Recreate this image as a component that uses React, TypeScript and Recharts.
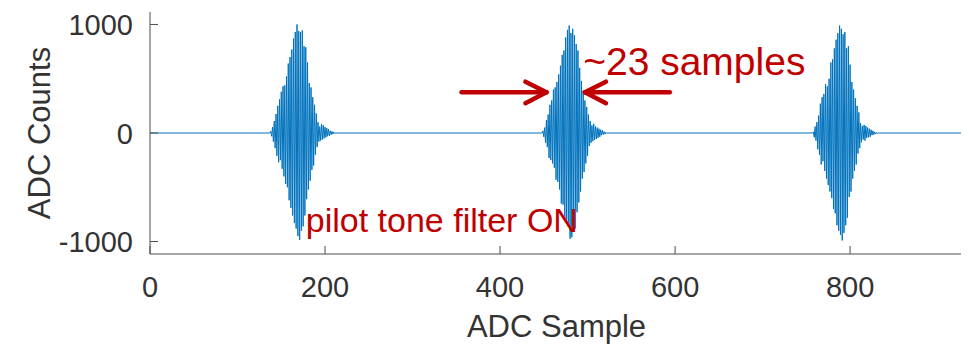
import React from 'react';
import {
  LineChart,
  Line,
  XAxis,
  YAxis,
  ReferenceLine,
  ReferenceDot,
  Label,
} from 'recharts';

// sample index where each burst begins
const burstStarts = [137, 448, 757];

const burst1 = [
  0, 15, -30, 55, -80, 110, -140, 175, -210, 250,
  -270, 310, -250, 380, -330, 430, -400, 440, -470, 520,
  -500, 640, -620, 700, -690, 770, -760, 870, -830, 930,
  -880, 1000, -950, 940, -985, 930, -900, 945, -860, 800,
  -760, 790, -610, 650, -520, 460, -440, 420, -340, 330,
  -300, 260, -200, 180, -130, 100, -80, 60, -70, 80,
  -60, 70, -50, 55, -40, 45, -30, 35, -25, 20,
  -15, 15, -10, 8, -5, 0,
];
const burst2 = [
  0, 20, -35, 50, -90, 120, -130, 170, -230, 260,
  -250, 300, -280, 400, -320, 420, -430, 470, -450, 540,
  -520, 620, -650, 720, -660, 760, -800, 880, -800, 950,
  -860, 990, -975, 920, -960, 960, -890, 900, -880, 820,
  -730, 760, -640, 600, -540, 480, -420, 390, -360, 300,
  -280, 240, -210, 170, -120, 110, -90, 70, -75, 85,
  -65, 60, -55, 50, -45, 40, -35, 30, -20, 25,
  -15, 12, -10, 6, -4, 0,
];
const burst3 = [
  0, 10, -40, 60, -70, 100, -150, 160, -200, 270,
  -290, 330, -260, 360, -350, 450, -420, 430, -480, 500,
  -540, 650, -600, 680, -700, 780, -740, 860, -850, 920,
  -900, 990, -940, 960, -990, 910, -920, 930, -850, 780,
  -780, 800, -590, 630, -540, 470, -420, 400, -350, 320,
  -290, 250, -190, 190, -140, 90, -85, 65, -60, 75,
  -70, 65, -45, 50, -40, 40, -35, 30, -20, 20,
  -15, 10, -10, 5, -5, 0,
];

const xTicks = [0, 200, 400, 600, 800];
const yTicks = [-1000, 0, 1000];
const X_MAX = 929;
const Y_LIM = 1115;

const BLUE = '#0072bd';
const RED = '#c00000';
const AXIS = '#4d4d4d';
const TEXT = '#333333';
const FONT = '"Liberation Sans", Arial, Helvetica, sans-serif';

const bursts = [burst1, burst2, burst3];
const data: { x: number; y: number }[] = [{ x: 0, y: 0 }];
bursts.forEach((b, i) => {
  b.forEach((v, j) => data.push({ x: burstStarts[i] + j, y: v }));
});
data.push({ x: X_MAX, y: 0 });

function BottomTick(props: any) {
  const { x, y, payload } = props;
  return (
    <g>
      <line x1={x} y1={y} x2={x} y2={y - 8} stroke={AXIS} />
      <text x={x} y={y + 43} textAnchor="middle" fontSize={29} fill={TEXT} fontFamily={FONT}>
        {payload.value}
      </text>
    </g>
  );
}

function TopTick(props: any) {
  const { x, y } = props;
  return <line x1={x} y1={y} x2={x} y2={y + 8} stroke={AXIS} />;
}

function LeftTick(props: any) {
  const { x, y, payload } = props;
  return (
    <g>
      <line x1={x} y1={y} x2={x + 8} y2={y} stroke={AXIS} />
      <text x={x - 17} y={y + 10.5} textAnchor="end" fontSize={29} fill={TEXT} fontFamily={FONT}>
        {payload.value}
      </text>
    </g>
  );
}

function RightTick(props: any) {
  const { x, y } = props;
  return <line x1={x} y1={y} x2={x - 8} y2={y} stroke={AXIS} />;
}

const arrowY = 375;
const arrowStyle = { stroke: RED, strokeWidth: 4.5, strokeLinecap: 'round' as const };

function Annotation(text: string, size: number) {
  return (p: any) => (
    <text x={p.cx} y={p.cy} fontSize={size} fill={RED} fontFamily={FONT}>
      {text}
    </text>
  );
}

export default function App() {
  return (
    <LineChart
      width={961}
      height={340}
      data={data}
      margin={{ top: 4, right: 6, left: 42, bottom: 0 }}
    >
      <XAxis
        dataKey="x"
        type="number"
        domain={[0, X_MAX]}
        ticks={xTicks}
        allowDataOverflow
        height={94}
        tickSize={0}
        tickMargin={0}
        tickLine={false}
        tick={BottomTick}
        axisLine={{ stroke: AXIS }}
      >
        <Label
          content={({ viewBox }: any) => (
            <text
              x={viewBox.x + viewBox.width / 2}
              y={viewBox.y + 83}
              textAnchor="middle"
              fontSize={31}
              fill={TEXT}
              fontFamily={FONT}
            >
              ADC Sample
            </text>
          )}
        />
      </XAxis>
      <XAxis
        xAxisId="top"
        orientation="top"
        dataKey="x"
        type="number"
        domain={[0, X_MAX]}
        ticks={xTicks}
        allowDataOverflow
        height={0}
        tickSize={0}
        tickMargin={0}
        tickLine={false}
        tick={TopTick}
        axisLine={{ stroke: AXIS }}
      />
      <YAxis
        type="number"
        domain={[-Y_LIM, Y_LIM]}
        ticks={yTicks}
        allowDataOverflow
        width={100}
        tickSize={0}
        tickMargin={0}
        tickLine={false}
        tick={LeftTick}
        axisLine={{ stroke: AXIS }}
      >
        <Label
          content={({ viewBox }: any) => {
            const cx = viewBox.x;
            const cy = viewBox.y + viewBox.height / 2;
            return (
              <text
                x={cx}
                y={cy}
                transform={`rotate(-90, ${cx}, ${cy})`}
                textAnchor="middle"
                fontSize={31}
                fill={TEXT}
                fontFamily={FONT}
              >
                ADC Counts
              </text>
            );
          }}
        />
      </YAxis>
      <YAxis
        yAxisId="right"
        orientation="right"
        type="number"
        domain={[-Y_LIM, Y_LIM]}
        ticks={yTicks}
        allowDataOverflow
        width={0}
        tickSize={0}
        tickMargin={0}
        tickLine={false}
        tick={RightTick}
        axisLine={{ stroke: AXIS }}
      />
      <Line
        dataKey="y"
        type="linear"
        stroke={BLUE}
        strokeWidth={1}
        dot={false}
        isAnimationActive={false}
      />
      <ReferenceLine segment={[{ x: 356, y: arrowY }, { x: 453, y: arrowY }]} {...arrowStyle} />
      <ReferenceLine segment={[{ x: 429, y: 473 }, { x: 453, y: arrowY }]} {...arrowStyle} />
      <ReferenceLine segment={[{ x: 429, y: 274 }, { x: 453, y: arrowY }]} {...arrowStyle} />
      <ReferenceLine segment={[{ x: 594, y: arrowY }, { x: 497, y: arrowY }]} {...arrowStyle} />
      <ReferenceLine segment={[{ x: 521, y: 473 }, { x: 497, y: arrowY }]} {...arrowStyle} />
      <ReferenceLine segment={[{ x: 521, y: 274 }, { x: 497, y: arrowY }]} {...arrowStyle} />
      <ReferenceDot x={495} y={530} r={0} shape={Annotation('~23 samples', 39)} />
      <ReferenceDot x={178} y={-912} r={0} shape={Annotation('pilot tone filter ON', 34)} />
    </LineChart>
  );
}
